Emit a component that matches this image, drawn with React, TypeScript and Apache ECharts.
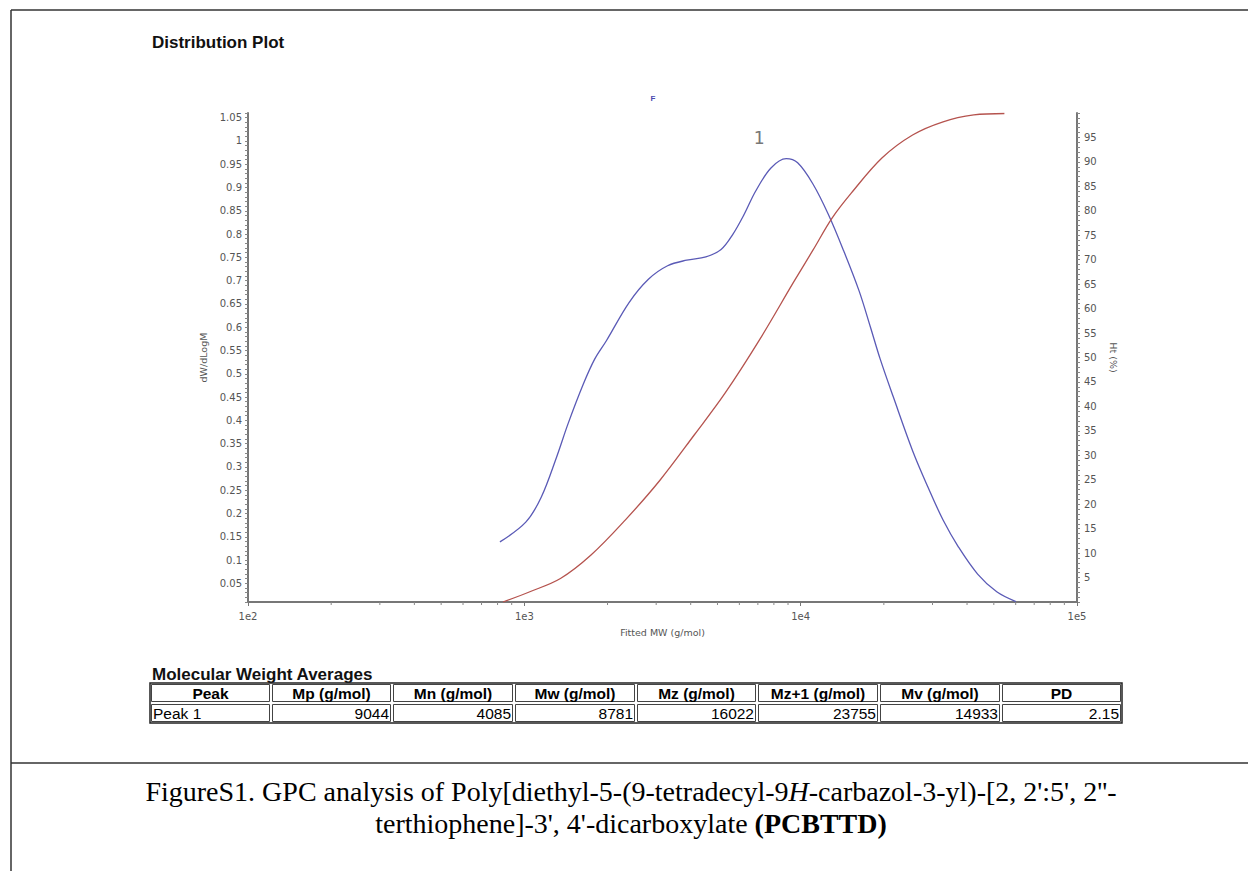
import React, { useEffect, useRef } from "react";
import * as echarts from "echarts";

// ---- data ----
const blueMW = [816, 1014, 1151, 1308, 1440, 1635, 1799, 1981, 2393, 2812, 3299, 3870, 4538, 5152, 5675, 6240, 6868, 7807, 8868, 9752, 11090, 12600, 14310, 16270, 17890, 19390, 21650, 25410, 28870, 32760, 37250, 43690, 51230, 60100];
const blueVal = [0.139, 0.182, 0.235, 0.321, 0.393, 0.478, 0.532, 0.571, 0.653, 0.703, 0.732, 0.744, 0.751, 0.767, 0.799, 0.842, 0.892, 0.942, 0.962, 0.953, 0.907, 0.842, 0.764, 0.678, 0.6, 0.532, 0.45, 0.335, 0.257, 0.186, 0.128, 0.07, 0.032, 0.011];
const redMW = [837, 1047, 1351, 1743, 2322, 3096, 4125, 5325, 7095, 9449, 11090, 12990, 15240, 19680, 25410, 32760, 42320, 54610];
const redVal = [0, 2.1, 4.8, 9.6, 16.8, 24.9, 34.2, 42.7, 53.6, 65.5, 72.0, 78.5, 83.6, 90.8, 95.5, 98.2, 99.6, 99.9];
const xMinorTicks = [200, 300, 400, 500, 600, 700, 800, 900, 2000, 3000, 4000, 5000, 6000, 7000, 8000, 9000, 20000, 30000, 40000, 50000, 60000, 70000, 80000, 90000];

const tableHeaders = ["Peak", "Mp (g/mol)", "Mn (g/mol)", "Mw (g/mol)", "Mz (g/mol)", "Mz+1 (g/mol)", "Mv (g/mol)", "PD"];
const tableRow = ["Peak 1", "9044", "4085", "8781", "16022", "23755", "14933", "2.15"];

const chartTitle = "Distribution Plot";
const tableTitle = "Molecular Weight Averages";
const xName = "Fitted MW (g/mol)";
const yLeftName = "dW/dLogM";
const yRightName = "Ht (%)";
const peakLabel = "1";
const fLabel = "F";

export default function App() {
  const ref = useRef<HTMLDivElement>(null);

  useEffect(() => {
    document.body.style.margin = "0";
    const chart = echarts.init(ref.current!, null, { renderer: "svg" });

    const colEdges = [150, 271, 392, 514, 636, 757, 879, 1001, 1122];
    const rowEdges = [683, 703, 723];
    const sans = '"Liberation Sans", Arial, sans-serif';
    const axisFont = '"DejaVu Sans", Verdana, sans-serif';
    const serif = '"Liberation Serif", "Times New Roman", serif';

    const graphics: any[] = [];
    graphics.push({ type: "line", shape: { x1: 11, y1: 10, x2: 1248, y2: 10 }, style: { stroke: "#333", lineWidth: 1.5 } });
    graphics.push({ type: "line", shape: { x1: 11, y1: 10, x2: 11, y2: 871 }, style: { stroke: "#333", lineWidth: 1.5 } });
    graphics.push({ type: "line", shape: { x1: 11, y1: 763, x2: 1248, y2: 763 }, style: { stroke: "#333", lineWidth: 1.5 } });

    graphics.push({ type: "text", x: 152, y: 42, style: { text: chartTitle, fill: "#111", fontFamily: sans, fontWeight: "bold", fontSize: 17, textAlign: "left", textVerticalAlign: "middle" } });
    graphics.push({ type: "text", x: 653, y: 98, style: { text: fLabel, fill: "#4a4ab0", fontFamily: sans, fontWeight: "bold", fontSize: 8, textAlign: "center", textVerticalAlign: "middle" } });
    graphics.push({ type: "text", x: 759, y: 137, style: { text: peakLabel, fill: "#777", fontFamily: '"DejaVu Sans Mono", monospace', fontSize: 18, textAlign: "center", textVerticalAlign: "middle" } });

    graphics.push({ type: "text", x: 152, y: 674, style: { text: tableTitle, fill: "#111", fontFamily: sans, fontWeight: "bold", fontSize: 17, textAlign: "left", textVerticalAlign: "middle" } });
    graphics.push({ type: "rect", shape: { x: colEdges[0], y: rowEdges[0], width: colEdges[8] - colEdges[0], height: rowEdges[2] - rowEdges[0] }, style: { fill: "none", stroke: "#222", lineWidth: 1.5 } });
    for (let r = 0; r < 2; r++) {
      for (let c = 0; c < 8; c++) {
        const x0 = colEdges[c], x1 = colEdges[c + 1], y0 = rowEdges[r], y1 = rowEdges[r + 1];
        graphics.push({ type: "rect", shape: { x: x0 + 1.5, y: y0 + 1.5, width: x1 - x0 - 3, height: y1 - y0 - 3 }, style: { fill: "none", stroke: "#444", lineWidth: 1 } });
        if (r === 0) {
          graphics.push({ type: "text", x: (x0 + x1) / 2, y: (y0 + y1) / 2 + 0.5, style: { text: tableHeaders[c], fill: "#000", fontFamily: sans, fontWeight: "bold", fontSize: 15.5, textAlign: "center", textVerticalAlign: "middle" } });
        } else {
          const left = c === 0;
          graphics.push({ type: "text", x: left ? x0 + 3 : x1 - 3, y: (y0 + y1) / 2 + 0.5, style: { text: tableRow[c], fill: "#000", fontFamily: sans, fontSize: 15.5, textAlign: left ? "left" : "right", textVerticalAlign: "middle" } });
        }
      }
    }

    const cs = 28;
    const rich = {
      n: { fontFamily: serif, fontSize: cs, fill: "#000" },
      i: { fontFamily: serif, fontSize: cs, fill: "#000", fontStyle: "italic" },
      b: { fontFamily: serif, fontSize: cs, fill: "#000", fontWeight: "bold" },
    };
    graphics.push({ type: "text", x: 631, y: 791, style: { text: "{n|FigureS1. GPC analysis of Poly[diethyl-5-(9-tetradecyl-9}{i|H}{n|-carbazol-3-yl)-[2, 2':5', 2''-}", rich, textAlign: "center", textVerticalAlign: "middle" } });
    graphics.push({ type: "text", x: 631, y: 823, style: { text: "{n|terthiophene]-3', 4'-dicarboxylate }{b|(PCBTTD)}", rich, textAlign: "center", textVerticalAlign: "middle" } });

    const axisColor = "#777";
    const labelColor = "#555";

    chart.setOption({
      animation: false,
      backgroundColor: "#fff",
      grid: { left: 248, right: 171, top: 113, bottom: 269, containLabel: false },
      xAxis: {
        type: "log",
        logBase: 10,
        min: 100,
        max: 100000,
        name: xName,
        nameLocation: "middle",
        nameGap: 25,
        nameTextStyle: { color: "#555", fontSize: 9.5, fontFamily: axisFont },
        axisLine: { lineStyle: { color: axisColor, width: 2 } },
        axisTick: { show: true, length: 4, lineStyle: { color: axisColor } },
        axisLabel: { color: labelColor, fontSize: 10, fontFamily: axisFont, margin: 9, formatter: (v: number) => "1e" + Math.round(Math.log10(v)) },
        splitLine: { show: false },
      },
      yAxis: [
        {
          type: "value",
          min: 0.01,
          max: 1.06,
          interval: 0.01,
          name: yLeftName,
          nameLocation: "middle",
          nameGap: 38,
          nameRotate: 90,
          nameTextStyle: { color: "#555", fontSize: 9.5, fontFamily: axisFont },
          axisLine: { show: true, lineStyle: { color: axisColor, width: 2 } },
          axisTick: { show: true, length: 3, lineStyle: { color: "#888" } },
          axisLabel: {
            color: labelColor, fontSize: 10, fontFamily: axisFont, margin: 6,
            formatter: (v: number) => { const k = Math.round(v * 100); return k % 5 === 0 ? String(+(k / 100).toFixed(2)) : ""; },
          },
          splitLine: { show: false },
        },
        {
          type: "value",
          min: 0,
          max: 100,
          interval: 1,
          position: "right",
          name: yRightName,
          nameLocation: "middle",
          nameGap: 31,
          nameRotate: -90,
          nameTextStyle: { color: "#555", fontSize: 9.5, fontFamily: axisFont },
          axisLine: { show: true, lineStyle: { color: axisColor, width: 2 } },
          axisTick: { show: true, length: 3, lineStyle: { color: "#888" } },
          axisLabel: {
            color: labelColor, fontSize: 10, fontFamily: axisFont, margin: 7,
            formatter: (v: number) => { const k = Math.round(v); return k % 5 === 0 && k > 0 && k < 100 ? String(k) : ""; },
          },
          splitLine: { show: false },
        },
      ],
      graphic: graphics,
      series: [
        {
          type: "line",
          yAxisIndex: 0,
          data: blueMW.map((m, i) => [m, blueVal[i]]),
          showSymbol: false,
          smooth: 0.35,
          lineStyle: { color: "#5a5ab6", width: 1.3 },
          z: 3,
        },
        {
          type: "line",
          yAxisIndex: 1,
          data: redMW.map((m, i) => [m, redVal[i]]),
          showSymbol: false,
          smooth: 0.35,
          lineStyle: { color: "#b5534e", width: 1.3 },
          z: 3,
        },
        {
          type: "custom",
          yAxisIndex: 0,
          clip: false,
          silent: true,
          data: xMinorTicks.map((v) => [v, 0.01]),
          encode: { x: 0, y: 1 },
          renderItem: (params: any, api: any) => {
            const p = api.coord([api.value(0), api.value(1)]);
            return { type: "line", shape: { x1: p[0], y1: p[1], x2: p[0], y2: p[1] + 3 }, style: { stroke: "#888", lineWidth: 1 } };
          },
        },
      ],
    });

    return () => chart.dispose();
  }, []);

  return <div ref={ref} style={{ width: 1248, height: 871 }} />;
}
